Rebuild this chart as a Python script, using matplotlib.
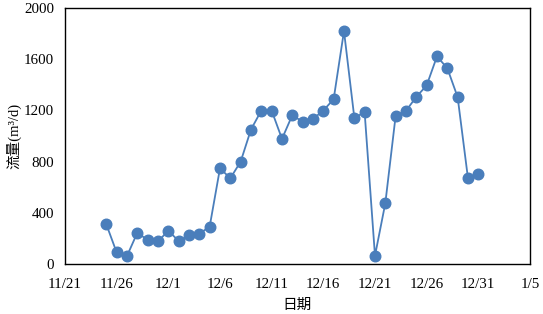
import numpy as np
import matplotlib
matplotlib.use("Agg")
import matplotlib.pyplot as plt
import matplotlib.dates as mdates

# daily flow, 11/25 - 12/31
start = np.datetime64("2020-11-25")
flow = [310, 91, 63, 245, 188, 177, 261, 180, 224, 237, 292,
        748, 670, 800, 1051, 1199, 1199, 978, 1163, 1111, 1134, 1199,
        1288, 1820, 1144, 1184, 65, 475, 1158, 1197, 1306, 1395, 1622,
        1530, 1304, 670, 707]
dates = start + np.arange(len(flow))

tick_dates = ["2020-11-21", "2020-11-26", "2020-12-01", "2020-12-06", "2020-12-11",
              "2020-12-16", "2020-12-21", "2020-12-26", "2020-12-31", "2021-01-05"]
tick_labels = ["11/21", "11/26", "12/1", "12/6", "12/11", "12/16", "12/21", "12/26", "12/31", "1/5"]
yticks = [0, 400, 800, 1200, 1600, 2000]

plt.rcParams['font.family'] = ['Liberation Serif', 'Noto Sans CJK SC']

fig = plt.figure(figsize=(5.43, 3.14), dpi=100)
ax = fig.add_axes([0.1197, 0.159, 0.8563, 0.8155])

ax.plot(dates.astype("datetime64[D]").astype(object), flow, color="#4a7ebb", lw=1.3,
        marker="o", markersize=7.6, markerfacecolor="#4a7ebb", markeredgecolor="#4a7ebb")

tk = [mdates.datestr2num(d) for d in tick_dates]
ax.set_xlim(tk[0], tk[-1])
ax.set_xticks(tk)
ax.set_xticklabels(tick_labels)
ax.set_ylim(0, 2000)
ax.set_yticks(yticks)
ax.tick_params(length=0, labelsize=10.8, pad=8)
ax.tick_params(axis="x", pad=10)
for s in ax.spines.values():
    s.set_color("black")
    s.set_linewidth(1.0)

ax.set_xlabel("日期", fontsize=10.5, labelpad=5, family=['Noto Sans CJK SC'])
ax.set_ylabel("流量(m³/d)", fontsize=10.5, labelpad=2)

fig.savefig("out.png", dpi=100)
